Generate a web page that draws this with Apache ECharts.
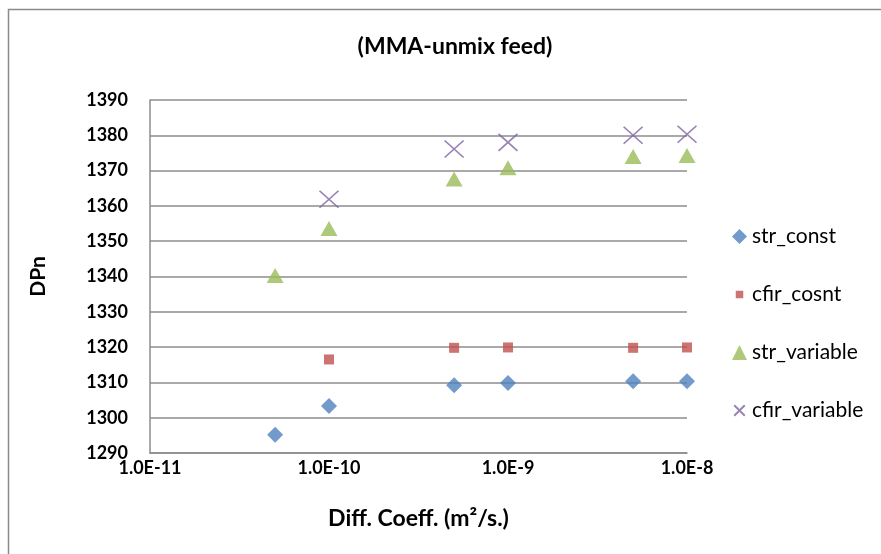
<!DOCTYPE html>
<html>
<head>
<meta charset="utf-8">
<script src="https://cdn.jsdelivr.net/npm/echarts@6/dist/echarts.min.js"></script>
<style>
  html, body { margin: 0; padding: 0; background: #fff; }
  #main { width: 881px; height: 554px; }
</style>
</head>
<body>
<div id="main"></div>
<script>
// diffusion coefficients (m2/s)
var diffCoeff = [5e-11, 1e-10, 5e-10, 1e-9, 5e-9, 1e-8];
var strConst = [1295.2, 1303.3, 1309.2, 1309.8, 1310.3, 1310.3];
var cfirCosnt = [null, 1316.5, 1319.8, 1319.9, 1319.8, 1319.9];
var strVariable = [1340.3, 1353.6, 1367.6, 1370.8, 1374.0, 1374.3];
var cfirVariable = [null, 1361.9, 1376.1, 1378.0, 1380.0, 1380.3];
var seriesNames = ['str_const', 'cfir_cosnt', 'str_variable', 'cfir_variable'];

var font = 'Lato, Carlito, Calibri, sans-serif';

function pairs (ys) {
  var out = [];
  for (var i = 0; i < diffCoeff.length; i++) {
    if (ys[i] !== null) out.push([diffCoeff[i], ys[i]]);
  }
  return out;
}

var chart = echarts.init(document.getElementById('main'));
var option = {
  backgroundColor: '#fff',
  animation: false,
  textStyle: { fontFamily: font },
  title: {
    text: '(MMA-unmix feed)',
    left: 450,
    textAlign: 'center',
    top: 30,
    textStyle: { fontFamily: font, fontSize: 23, fontWeight: 'bold', color: '#000' }
  },
  graphic: [{
    type: 'rect',
    shape: { x: 8.5, y: 9.5, width: 1000, height: 1000 },
    style: { fill: 'none', stroke: '#8a8a8a', lineWidth: 1.5 },
    silent: true
  }],
  legend: {
    orient: 'vertical',
    left: 726,
    top: 221,
    itemGap: 37,
    itemWidth: 15,
    itemHeight: 15,
    textStyle: { fontFamily: font, fontSize: 21, color: '#000' },
    data: [
      { name: seriesNames[0], icon: 'diamond' },
      { name: seriesNames[1], icon: 'path://M0,0M16,16M4,4L12,4L12,12L4,12Z' },
      { name: seriesNames[2], icon: 'triangle' },
      { name: seriesNames[3], icon: 'path://M0,0M20,20M3,3L17,17M17,3L3,17' }
    ]
  },
  grid: { left: 150, top: 100, right: 194, bottom: 101 },
  xAxis: {
    type: 'log',
    logBase: 10,
    min: 1e-11,
    max: 1e-8,
    name: 'Diff. Coeff. (m²/s.)',
    nameLocation: 'middle',
    nameGap: 54,
    nameTextStyle: { fontFamily: font, fontSize: 23, fontWeight: 'bold', color: '#000' },
    axisLine: { lineStyle: { color: '#8c8c8c', width: 1.5 } },
    axisTick: { show: false },
    splitLine: { show: false },
    axisLabel: {
      margin: 6,
      fontFamily: font, fontSize: 18, fontWeight: 'bold', color: '#000',
      formatter: function (v) {
        var e = Math.round(Math.log10(v));
        return '1.0E' + e;
      }
    }
  },
  yAxis: {
    type: 'value',
    min: 1290,
    max: 1390,
    interval: 10,
    name: 'DPn',
    nameLocation: 'middle',
    nameGap: 101,
    nameRotate: 90,
    nameTextStyle: { fontFamily: font, fontSize: 21, fontWeight: 'bold', color: '#000' },
    axisLine: { show: true, lineStyle: { color: '#8c8c8c', width: 1.5 } },
    axisTick: { show: false },
    splitLine: { lineStyle: { color: '#8c8c8c', width: 1.5 } },
    axisLabel: {
      margin: 22,
      fontFamily: font, fontSize: 18, fontWeight: 'bold', color: '#000',
      formatter: function (v) { return String(v); }
    }
  },
  series: [
    {
      name: seriesNames[0], type: 'scatter', symbol: 'diamond', symbolSize: 16,
      itemStyle: { color: '#4F81BD' }, data: pairs(strConst)
    },
    {
      name: seriesNames[1], type: 'scatter', symbol: 'rect', symbolSize: 10,
      itemStyle: { color: '#C0504D' }, data: pairs(cfirCosnt)
    },
    {
      name: seriesNames[2], type: 'scatter', symbol: 'triangle', symbolSize: [17, 15],
      itemStyle: { color: '#9BBB59' }, data: pairs(strVariable)
    },
    {
      name: seriesNames[3], type: 'scatter',
      symbol: 'path://M0,0L10,10M10,0L0,10', symbolSize: [19, 17],
      itemStyle: { color: 'rgba(0,0,0,0)', borderColor: '#8064A2', borderWidth: 1.6 },
      data: pairs(cfirVariable)
    }
  ]
};
chart.setOption(option);
</script>
</body>
</html>
